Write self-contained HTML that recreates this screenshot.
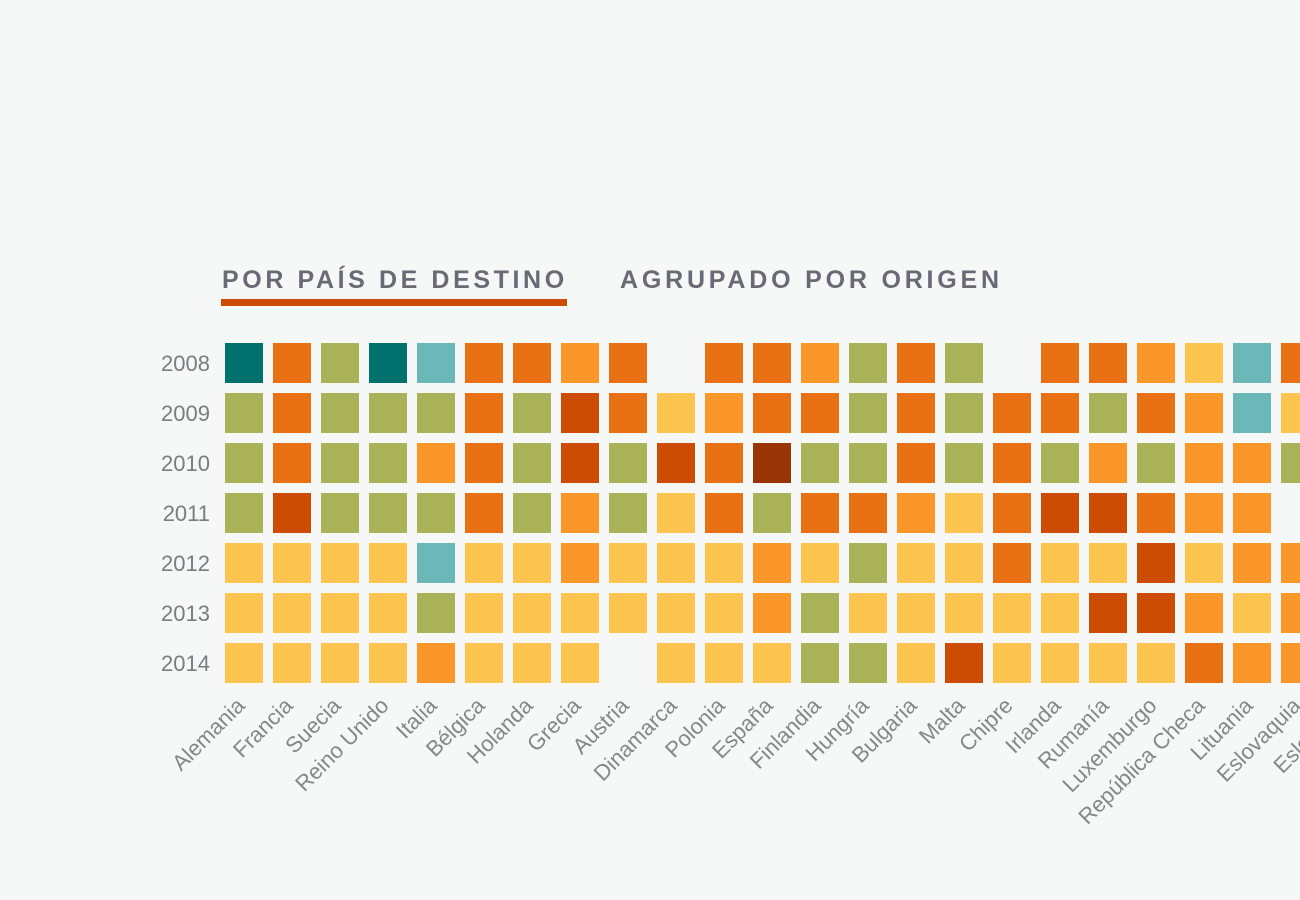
<!DOCTYPE html>
<html><head><meta charset="utf-8">
<style>
body{margin:0;width:1300px;height:900px;background:#f6f7f7;overflow:hidden;font-family:"Liberation Sans",sans-serif;}
.tab{position:absolute;top:266px;font-weight:bold;font-size:25px;color:#686b75;cursor:pointer;white-space:nowrap;}
</style></head><body>
<div class="tab" style="left:222px;letter-spacing:3.6px;">POR PAÍS DE DESTINO</div>
<div style="position:absolute;left:221px;top:299px;width:346px;height:7px;background:#cc4c02"></div>
<div class="tab" style="left:620px;letter-spacing:3.8px;">AGRUPADO POR ORIGEN</div>
<svg id="chart" width="1300" height="900" style="position:absolute;left:0;top:0"></svg>
<script>
const countries=["Alemania","Francia","Suecia","Reino Unido","Italia","Bélgica","Holanda","Grecia","Austria","Dinamarca","Polonia","España","Finlandia","Hungría","Bulgaria","Malta","Chipre","Irlanda","Rumanía","Luxemburgo","República Checa","Lituania","Eslovaquia","Eslovenia"];
const years=["2008","2009","2010","2011","2012","2013","2014"];
// levels: 1=dark teal,2=light teal,3=olive,4=yellow,5=light orange,6=orange,7=dark orange,8=brown,0=no data
const v2008=[1,6,3,1,2,6,6,5,6,0,6,6,5,3,6,3,0,6,6,5,4,2,6,6];
const v2009=[3,6,3,3,3,6,3,7,6,4,5,6,6,3,6,3,6,6,3,6,5,2,4,4];
const v2010=[3,6,3,3,5,6,3,7,3,7,6,8,3,3,6,3,6,3,5,3,5,5,3,3];
const v2011=[3,7,3,3,3,6,3,5,3,4,6,3,6,6,5,4,6,7,7,6,5,5,0,0];
const v2012=[4,4,4,4,2,4,4,5,4,4,4,5,4,3,4,4,6,4,4,7,4,5,5,5];
const v2013=[4,4,4,4,3,4,4,4,4,4,4,5,3,4,4,4,4,4,7,7,5,4,5,5];
const v2014=[4,4,4,4,5,4,4,4,0,4,4,4,3,3,4,7,4,4,4,4,6,5,5,5];
const values=[v2008,v2009,v2010,v2011,v2012,v2013,v2014];
const palette=["none","#00716d","#6cb8b8","#a9b257","#fdc44f","#fb9729","#ea7014","#cb4c02","#993404"];
const NS="http://www.w3.org/2000/svg";
const svg=document.getElementById('chart');
const x=i=>225+i*48, y=j=>343+j*50, CW=38, CH=40;
years.forEach((yr,j)=>{
  const t=document.createElementNS(NS,'text');
  t.setAttribute('x',210);t.setAttribute('y',y(j)+28);t.setAttribute('text-anchor','end');
  t.setAttribute('font-size','22');t.setAttribute('fill','#7a7c80');t.setAttribute('font-family','Liberation Sans, sans-serif');
  t.textContent=yr;
  
  
  svg.appendChild(t);
  values[j].forEach((v,i)=>{
    if(!v)return;
    const r=document.createElementNS(NS,'rect');
    r.setAttribute('x',x(i));r.setAttribute('y',y(j));r.setAttribute('width',CW);r.setAttribute('height',CH);
    r.setAttribute('fill',palette[v]);
    
    
    svg.appendChild(r);
  });
});
countries.forEach((c,i)=>{
  const t=document.createElementNS(NS,'text');
  const cx=x(i)+CW/2+2, cy=707;
  t.setAttribute('x',cx);t.setAttribute('y',cy);t.setAttribute('text-anchor','end');
  t.setAttribute('transform','rotate(-45 '+cx+' '+cy+')');
  t.setAttribute('font-size','22');t.setAttribute('fill','#85878b');t.setAttribute('font-family','Liberation Sans, sans-serif');
  t.textContent=c;
  
  
  svg.appendChild(t);
});
</script>
</body></html>
